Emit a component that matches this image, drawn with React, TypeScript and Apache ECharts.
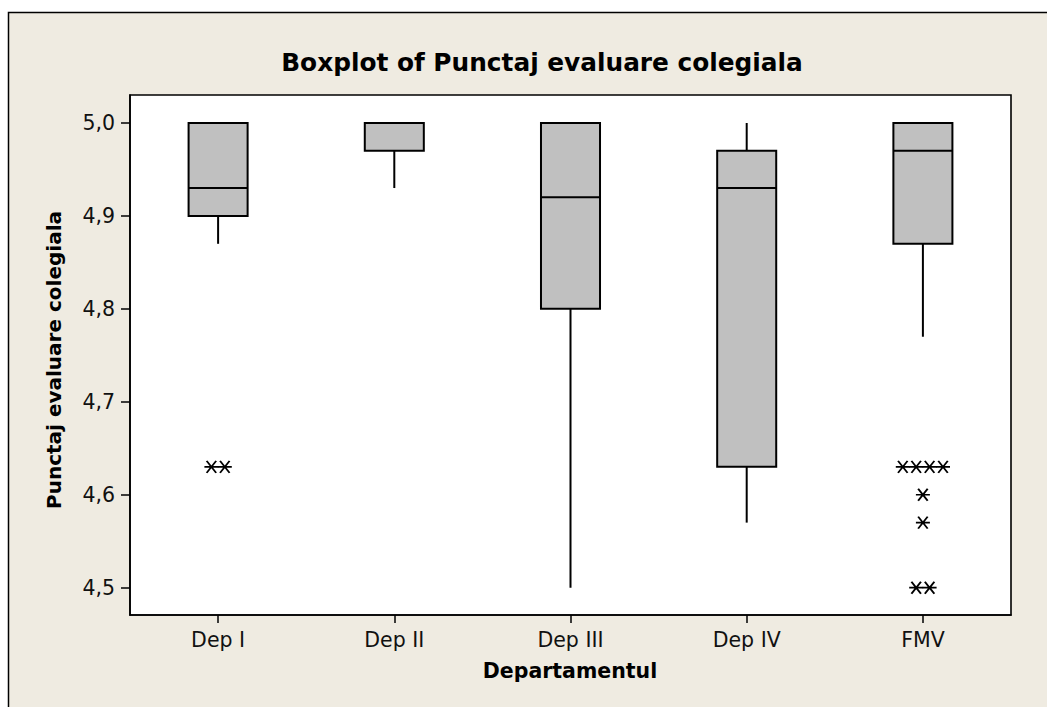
import React, { useEffect, useRef } from "react";
import * as echarts from "echarts";

const categories = ["Dep I", "Dep II", "Dep III", "Dep IV", "FMV"];
const whiskerLow = [4.87, 4.93, 4.5, 4.57, 4.77];
const q1 = [4.9, 4.97, 4.8, 4.63, 4.87];
const median = [4.93, 5.0, 4.92, 4.93, 4.97];
const q3 = [5.0, 5.0, 5.0, 4.97, 5.0];
const whiskerHigh = [5.0, 5.0, 5.0, 5.0, 5.0];
const outlierCategory = ["Dep I", "Dep I", "FMV", "FMV", "FMV", "FMV", "FMV", "FMV", "FMV", "FMV"];
const outlierValues = [4.63, 4.63, 4.63, 4.63, 4.63, 4.63, 4.6, 4.57, 4.5, 4.5];
const yTicks = [4.5, 4.6, 4.7, 4.8, 4.9, 5.0];

const FONT = "DejaVu Sans";
const STAR = "path://M0,5 L10,5 M1.6,0 L8.4,10 M8.4,0 L1.6,10";

export default function App() {
  const ref = useRef<HTMLDivElement>(null);
  useEffect(() => {
    document.body.style.margin = "0";
    const chart = echarts.init(ref.current!, undefined, { renderer: "svg" });

    const boxData = categories.map((_, i) => [i, whiskerLow[i], q1[i], median[i], q3[i], whiskerHigh[i]]);

    const groups: Record<string, number[]> = {};
    outlierValues.forEach((v, i) => {
      const k = outlierCategory[i] + "|" + v;
      (groups[k] = groups[k] || []).push(i);
    });
    const step = 13.4;
    const outData = outlierValues.map((v, i) => {
      const k = outlierCategory[i] + "|" + v;
      const g = groups[k];
      const pos = g.indexOf(i);
      const off = (pos - (g.length - 1) / 2) * step;
      return { value: [categories.indexOf(outlierCategory[i]), v], symbolOffset: [off, 0] };
    });

    chart.setOption({
      animation: false,
      backgroundColor: "#ffffff",
      textStyle: { fontFamily: FONT },
      grid: {
        left: 130,
        top: 95,
        right: 36,
        bottom: 92,
        show: true,
        backgroundColor: "#ffffff",
        borderColor: "#000",
        borderWidth: 1.6,
      },
      graphic: [
        {
          type: "rect",
          z: -10,
          shape: { x: 8.5, y: 12.5, width: 1200, height: 900 },
          style: { fill: "#EFEBE1", stroke: "#000", lineWidth: 1.5 },
        },
        {
          type: "text",
          x: 542,
          y: 62,
          style: {
            text: "Boxplot of Punctaj evaluare colegiala",
            font: `bold 24.8px "${FONT}"`,
            fill: "#000",
            textAlign: "center",
            textVerticalAlign: "middle",
          },
        },
        {
          type: "text",
          x: 54,
          y: 360,
          rotation: Math.PI / 2,
          style: {
            text: "Punctaj evaluare colegiala",
            font: `bold 20px "${FONT}"`,
            fill: "#000",
            textAlign: "center",
            textVerticalAlign: "middle",
          },
        },
        {
          type: "text",
          x: 570,
          y: 671,
          style: {
            text: "Departamentul",
            font: `bold 20.5px "${FONT}"`,
            fill: "#000",
            textAlign: "center",
            textVerticalAlign: "middle",
          },
        },
      ],
      xAxis: {
        type: "category",
        data: categories,
        boundaryGap: true,
        axisLine: { show: true, lineStyle: { color: "#000", width: 1.6 } },
        axisTick: { show: true, alignWithLabel: true, length: 8, lineStyle: { color: "#000", width: 1.5 } },
        axisLabel: { color: "#111", fontSize: 20.5, fontFamily: FONT, margin: 14 },
        splitLine: { show: false },
      },
      yAxis: {
        type: "value",
        min: 4.4706,
        max: 5.0301,
        axisLine: { show: true, lineStyle: { color: "#000", width: 1.6 } },
        axisTick: { show: true, length: 9, customValues: yTicks, lineStyle: { color: "#000", width: 1.5 } },
        axisLabel: {
          color: "#111",
          fontSize: 20.5,
          fontFamily: FONT,
          margin: 15,
          customValues: yTicks,
          formatter: (v: number) => v.toFixed(1).replace(".", ","),
        },
        splitLine: { show: false },
      },
      series: [
        {
          type: "custom",
          data: boxData,
          encode: { x: 0, y: [1, 2, 3, 4, 5] },
          renderItem: (params: any, api: any) => {
            const idx = api.value(0);
            const lo = api.coord([idx, api.value(1)]);
            const b1 = api.coord([idx, api.value(2)]);
            const md = api.coord([idx, api.value(3)]);
            const b3 = api.coord([idx, api.value(4)]);
            const hi = api.coord([idx, api.value(5)]);
            const w = api.size([1, 0])[0] * 0.335;
            const x = lo[0];
            const ls = { stroke: "#000", lineWidth: 2 };
            return {
              type: "group",
              children: [
                { type: "line", shape: { x1: x, y1: lo[1], x2: x, y2: b1[1] }, style: ls },
                { type: "line", shape: { x1: x, y1: b3[1], x2: x, y2: hi[1] }, style: ls },
                {
                  type: "rect",
                  shape: { x: x - w / 2, y: b3[1], width: w, height: b1[1] - b3[1] },
                  style: { fill: "#C0C0C0", stroke: "#000", lineWidth: 2 },
                },
                { type: "line", shape: { x1: x - w / 2, y1: md[1], x2: x + w / 2, y2: md[1] }, style: { stroke: "#000", lineWidth: 2 } },
              ],
            };
          },
        },
        {
          type: "scatter",
          data: outData,
          symbol: STAR,
          symbolSize: [14, 12],
          itemStyle: { color: "rgba(0,0,0,0)", borderColor: "#000", borderWidth: 1.8, opacity: 1 },
          z: 5,
        },
      ],
    });
    return () => chart.dispose();
  }, []);
  return <div ref={ref} style={{ width: 1047, height: 707 }} />;
}
